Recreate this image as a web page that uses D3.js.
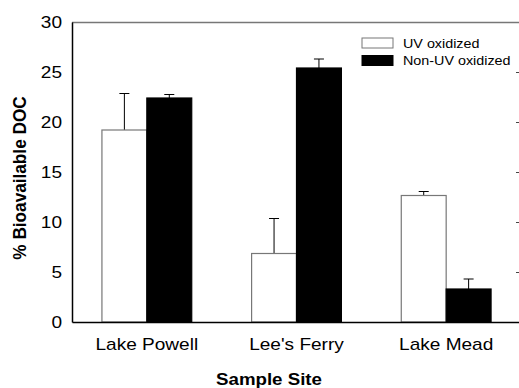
<!DOCTYPE html>
<html>
<head>
<meta charset="utf-8">
<script src="https://cdn.jsdelivr.net/npm/d3@7"></script>
<style>
  body { margin: 0; background: #fff; }
  svg { display: block; font-family: Arial, "Liberation Sans", sans-serif; }
</style>
</head>
<body>
<div id="chart"></div>
<script>
// data
var sites = ["Lake Powell", "Lee's Ferry", "Lake Mead"];
var seriesNames = ["UV oxidized", "Non-UV oxidized"];
var uvValues = [19.2, 6.85, 12.65];
var uvErrors = [3.65, 3.5, 0.4];
var nonUvValues = [22.4, 25.4, 3.3];
var nonUvErrors = [0.35, 0.9, 1.0];
var yTicks = [0, 5, 10, 15, 20, 25, 30];

var width = 519, height = 388;
var margin = { top: 22, right: -2, bottom: 66, left: 72 };
var w = width - margin.left - margin.right;
var h = height - margin.top - margin.bottom;
var stretch = 1.12; // the original figure is a bit wider than tall

var svg = d3.select('#chart').append('svg')
    .attr('width', width)
    .attr('height', height);

var g = svg.append('g')
    .attr('transform', 'translate(' + margin.left + ',' + margin.top + ')');

var x = d3.scaleBand().domain(sites).range([0, w]).paddingInner(0.4).paddingOuter(0.2);
var xs = d3.scaleBand().domain(seriesNames).range([0, x.bandwidth()]);
var y = d3.scaleLinear().domain([0, 30]).range([h, 0]);

var fills = { "UV oxidized": '#fff', "Non-UV oxidized": '#000' };
var strokes = { "UV oxidized": '#777', "Non-UV oxidized": '#000' };

var rows = [];
sites.forEach(function (s, i) {
    rows.push({ site: s, series: seriesNames[0], v: uvValues[i], e: uvErrors[i] });
    rows.push({ site: s, series: seriesNames[1], v: nonUvValues[i], e: nonUvErrors[i] });
});

function widen(sel) {
    sel.each(function () {
        var len = this.getComputedTextLength();
        d3.select(this).attr('textLength', len * stretch).attr('lengthAdjust', 'spacingAndGlyphs');
    });
}

// frame: top and right in gray
g.append('line').attr('x1', 0).attr('x2', w).attr('y1', 0.5).attr('y2', 0.5)
    .attr('stroke', '#777').attr('stroke-width', 1.5);
g.append('line').attr('x1', w).attr('x2', w).attr('y1', 0).attr('y2', h)
    .attr('stroke', '#777').attr('stroke-width', 1.5);

// right axis: inward ticks, no labels
var rightAxis = d3.axisLeft(y).tickValues(yTicks.slice(1, -1)).tickSize(5).tickFormat('');
g.append('g').attr('transform', 'translate(' + w + ',0)').call(rightAxis)
    .call(function (s) { s.select('.domain').remove(); })
    .selectAll('line').attr('stroke', '#444');

// error bars (up only)
var eb = g.selectAll('.err').data(rows).enter().append('g').attr('class', 'err');
eb.append('line')
    .attr('x1', function (d) { return x(d.site) + xs(d.series) + xs.bandwidth() / 2; })
    .attr('x2', function (d) { return x(d.site) + xs(d.series) + xs.bandwidth() / 2; })
    .attr('y1', function (d) { return y(d.v); })
    .attr('y2', function (d) { return y(d.v + d.e); })
    .attr('stroke', '#000').attr('stroke-width', 1);
eb.append('line')
    .attr('x1', function (d) { return x(d.site) + xs(d.series) + xs.bandwidth() / 2 - 5; })
    .attr('x2', function (d) { return x(d.site) + xs(d.series) + xs.bandwidth() / 2 + 5; })
    .attr('y1', function (d) { return y(d.v + d.e); })
    .attr('y2', function (d) { return y(d.v + d.e); })
    .attr('stroke', '#000').attr('stroke-width', 1);

// bars
g.selectAll('.bar').data(rows).enter().append('rect')
    .attr('class', 'bar')
    .attr('x', function (d) { return x(d.site) + xs(d.series); })
    .attr('y', function (d) { return y(d.v); })
    .attr('width', xs.bandwidth())
    .attr('height', function (d) { return h - y(d.v); })
    .attr('fill', function (d) { return fills[d.series]; })
    .attr('stroke', function (d) { return strokes[d.series]; })
    .attr('stroke-width', 1.2);

// left axis
var leftAxis = d3.axisLeft(y).tickValues(yTicks).tickSize(0).tickPadding(10);
var ly = g.append('g').call(leftAxis);
ly.select('.domain').attr('stroke', '#000').attr('stroke-width', 1.5);
ly.selectAll('text').style('font-size', '17px').attr('fill', '#000')
    .attr('font-family', 'Arial, "Liberation Sans", sans-serif').call(widen);

// bottom axis
var bottomAxis = d3.axisBottom(x).tickSize(0).tickPadding(16);
var bx = g.append('g').attr('transform', 'translate(0,' + h + ')').call(bottomAxis);
bx.select('.domain').attr('stroke', '#000').attr('stroke-width', 1.5);
bx.selectAll('text').style('font-size', '17px').attr('fill', '#000')
    .attr('font-family', 'Arial, "Liberation Sans", sans-serif').call(widen);

// axis titles
svg.append('text')
    .attr('x', 269)
    .attr('y', 385)
    .attr('text-anchor', 'middle')
    .style('font-size', '16.7px').style('font-weight', 'bold')
    .text('Sample Site')
    .call(widen);

svg.append('text')
    .attr('transform', 'translate(26,178) rotate(-90) scale(1,' + stretch + ')')
    .attr('text-anchor', 'middle')
    .style('font-size', '17.2px').style('font-weight', 'bold')
    .text('% Bioavailable DOC');

// legend
var legend = svg.append('g').attr('transform', 'translate(362,38)');
var li = legend.selectAll('g').data(seriesNames).enter().append('g')
    .attr('transform', function (d, i) { return 'translate(0,' + (i * 17.5) + ')'; });
li.append('rect')
    .attr('width', 31).attr('height', 10)
    .attr('fill', function (d) { return fills[d]; })
    .attr('stroke', function (d) { return strokes[d]; })
    .attr('stroke-width', 1);
li.append('text')
    .attr('x', 41).attr('y', 9.5)
    .style('font-size', '12.8px')
    .text(function (d) { return d; })
    .call(widen);
</script>
</body>
</html>
